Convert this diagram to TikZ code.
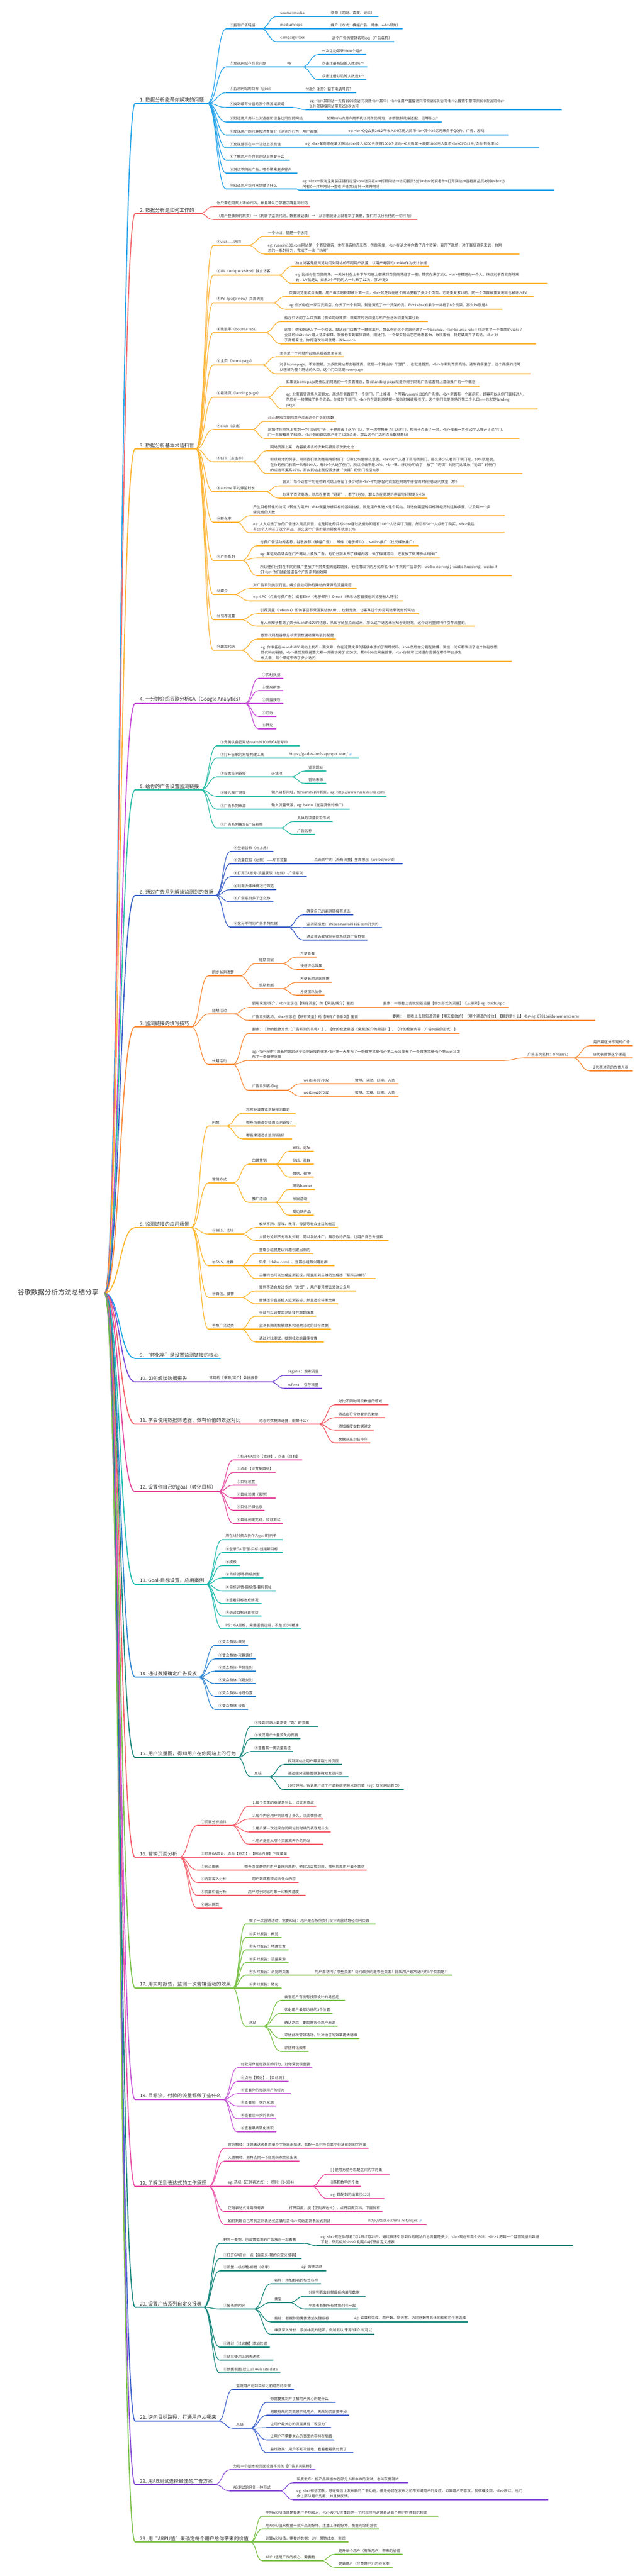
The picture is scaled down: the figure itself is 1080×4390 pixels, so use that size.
\documentclass[tikz,border=0pt]{standalone}
\usepackage{fontspec}
\setmainfont{Noto Sans CJK SC}
\newfontfamily\emojifont{Noto Emoji}
\usetikzlibrary{calc}
\definecolor{txtc}{HTML}{333333}
\definecolor{linkc}{HTML}{3A8EE6}
\definecolor{c1}{HTML}{27A4EA}
\definecolor{c2}{HTML}{F36B6E}
\definecolor{c3}{HTML}{FDB53A}
\definecolor{c4}{HTML}{C64AD8}
\definecolor{c5}{HTML}{2DBDA8}
\definecolor{c6}{HTML}{3A5FC8}
\definecolor{c7}{HTML}{FA8C3C}
\definecolor{c8}{HTML}{FDB72E}
\definecolor{c9}{HTML}{1FA8E8}
\definecolor{c10}{HTML}{7B4CD8}
\definecolor{c11}{HTML}{F4606B}
\definecolor{c12}{HTML}{E5489E}
\definecolor{c13}{HTML}{22BDB0}
\definecolor{c14}{HTML}{2F86D2}
\definecolor{c15}{HTML}{17877D}
\definecolor{c16}{HTML}{F4606B}
\definecolor{c17}{HTML}{7CC24A}
\definecolor{c18}{HTML}{C75AD8}
\definecolor{c19}{HTML}{E84FA6}
\definecolor{c20}{HTML}{17877D}
\definecolor{c21}{HTML}{3F64CC}
\definecolor{c22}{HTML}{8A4FD8}
\definecolor{c23}{HTML}{7CC24A}
\colorlet{cur}{c1}
\tikzset{
  leaf/.style={anchor=south west, inner sep=0pt, font=\fontsize{6.2}{8.8}\selectfont, text=txtc, align=left},
  brl/.style={anchor=south west, inner sep=0pt, font=\fontsize{8.3}{10}\selectfont, text=txtc},
  ul/.style={draw=cur, line width=1.2pt, line cap=round},
  cn/.style={draw=cur, line width=1.2pt},
  ulb/.style={draw=cur, line width=1.7pt, line cap=round},
  cnb/.style={draw=cur, line width=1.7pt},
}
\newcommand\mnd[5]{%
  \node[leaf] (#1) at (#2,#4-3) {#5};
  \draw[ul] let \p1=(#1.south east), \p2=(#2-6,#4), \n1={max(\x1+3pt,#3pt)} in (\p2) coordinate (#1-s) -- (\n1,\y2) coordinate (#1-e);}
\newcommand\mbr[5]{%
  \node[brl] (#1) at (#2,#4-2) {#5};
  \draw[ulb] let \p1=(#1.south east), \p2=(#2-8,#4), \n1={max(\x1+3pt,#3pt)} in (\p2) coordinate (#1-s) -- (\n1,\y2) coordinate (#1-e);}
\newcommand\mlk[2]{\draw[cn] let \p1=(#1-e),\p2=(#2-s),\n1={0.5*(\x2-\x1)} in (\p1) .. controls +(\n1,0pt) and +(-\n1,0pt) .. (\p2);}
\newcommand\mlks[2]{\foreach \kid in {#2}{\mlk{#1}{\kid}}}
\newcommand\mrl[1]{\draw[cnb] let \p1=(roote),\p2=(#1-s),\n1={0.5*(\x2-\x1)} in (\p1) .. controls +(\n1,0pt) and +(-\n1,0pt) .. (\p2);}
\newcommand\lnkicon{\hspace{2pt}{\emojifont\fontsize{4.5}{5}\selectfont\textcolor{linkc}{🔗}}}
\begin{document}
\begin{tikzpicture}[x=1pt,y=-1pt]
\fill[white] (0,0) rectangle (1080,4390);
\useasboundingbox (0,0) rectangle (1080,4390);
\node[font=\fontsize{11.5}{13}\selectfont, text=txtc, anchor=east, inner sep=0pt] (root) at (168,2202) {谷歌数据分析方法总结分享};
\coordinate (roote) at (178,2204);

% ---------- 1
\colorlet{cur}{c1}
\mbr{b1}{238}{353}{176}{1. 数据分析能帮你解决的问题}
\mnd{n1a}{391}{444}{49}{①监测广告链接}
\mnd{n1a1}{477}{553}{28}{source=media}
\mnd{n1a1a}{563}{644}{28}{来源（网站、百度、论坛）}
\mnd{n1a2}{477}{553}{49}{medium=cpc}
\mnd{n1a2a}{563}{685}{49}{媒介（方式：横幅广告、邮件、edm邮件）}
\mnd{n1a3}{477}{553}{71}{campaign=xxx}
\mnd{n1a3a}{565}{664}{71}{这个广告的营销名称xxx（广告名称）}
\mnd{n1b}{391}{480}{114}{②发现网站存在的问题}
\mnd{n1b1}{489}{514}{114}{eg}
\mnd{n1b1a}{548}{623}{93}{一次活动带来1000个用户}
\mnd{n1b1b}{548}{625}{114}{点击注册按钮的人数是6个}
\mnd{n1b1c}{548}{618}{136}{点击注册以后的人数是3个}
\mnd{n1c}{391}{505}{158}{③监测网站的目标（goal）}
\mnd{n1c1}{520}{606}{158}{付款？注册？留下电话号码？}
\mnd{n1d}{391}{498}{183}{④找到最有价值的那个来源或渠道}
\mnd{n1d1}{527}{956}{187}{eg: <br>某网站一天有1000次访问次数<br>其中：<br>1.用户直接访问带来150次访问<br>2.搜索引擎带来600次访问<br>\\3.外部链接网站带来250次访问}
\mnd{n1e}{391}{542}{208}{⑤知道用户用什么浏览器和设备访问你的网站}
\mnd{n1e1}{556}{740}{208}{如果80\%的用户用手机访问你的网站，你不做移动端适配，还等什么？}
\mnd{n1f}{391}{580}{230}{⑥发现用户的兴趣和消费偏好（浏览的行为，用户画像）}
\mnd{n1f1}{593}{865}{230}{eg: <br>QQ会员2012年收入54亿元人民币<br>其中26亿元来自于QQ秀、广告、游戏}
\mnd{n1g}{391}{510}{252}{⑦发现是否在一个活动上浪费钱}
\mnd{n1g1}{520}{917}{252}{eg: <br>某商家在某大网站<br>投入3000元获得1000个点击→0人购买→浪费3000元人民币<br>CPC=3元/点击 转化率=0}
\mnd{n1h}{391}{493}{273}{⑧了解用户在你的网站上需要什么}
\mnd{n1i}{391}{506}{295}{⑨测试不同的广告，哪个带来更多客户}
\mnd{n1j}{391}{505}{322}{⑩知道用户访问网站做了什么}
\mnd{n1j1}{515}{943}{324}{eg: <br>一家淘宝男装店铺的运营<br>访问者A→打开网站→访问首页5分钟<br>访问者B→打开网站→查看商品页4分钟<br>访\\问者C→打开网站→查看详情页3分钟→离开网站}
\mrl{b1}
\mlks{b1}{n1a,n1b,n1c,n1d,n1e,n1f,n1g,n1h,n1i,n1j}
\mlks{n1a}{n1a1,n1a2,n1a3}
\mlk{n1a1}{n1a1a}\mlk{n1a2}{n1a2a}\mlk{n1a3}{n1a3a}
\mlk{n1b}{n1b1}
\mlks{n1b1}{n1b1a,n1b1b,n1b1c}
\mlk{n1c}{n1c1}\mlk{n1d}{n1d1}\mlk{n1e}{n1e1}\mlk{n1f}{n1f1}\mlk{n1g}{n1g1}\mlk{n1j}{n1j1}

% ---------- 2
\colorlet{cur}{c2}
\mbr{b2}{238}{340}{364}{2. 数据分析是如何工作的}
\mnd{n2a}{369}{527}{352}{你只需在网页上添加代码，并且确认已部署正确监测代码}
\mnd{n2b}{369}{710}{374}{（用户登录你的网页）→（刷新了监测代码，数据被记录）→（从谷歌统计上就看到了数据，我们可以分析他的一切行为）}
\mrl{b2}
\mlks{b2}{n2a,n2b}

% ---------- 3
\colorlet{cur}{c3}
\mbr{b3}{238}{333}{765}{3. 数据分析基本术语扫盲}
\mnd{n3a}{369}{422}{418}{①visit——访问}
\mnd{n3a1}{456}{527}{403}{一个visit，就是一个访问}
\mnd{n3a2}{456}{884}{433}{eg: ruanshi100.com网站是一个百货商店，你在商店挑选东西，然后买单，<br>在这之中你看了几个货架，离开了商场，对于百货商店来说，你刚\\才的一系列行为，完成了一次“访问”}
\mnd{n3b}{369}{473}{469}{②UV（unique visitor）独立访客}
\mnd{n3b1}{503}{716}{454}{独立访客是指浏览访问你网站的不同用户数量，以用户电脑的cookie作为统计依据}
\mnd{n3b2}{503}{931}{483}{eg: 比如你在百货商场，一天分别在上午下午和晚上都来到百货商场逛了一圈，其实你来了3次，<br>但都是你一个人，所以对于百货商场来\\说，UV就是1，如果2个不同的人一共来了12次，那UV是2}
\mnd{n3c}{369}{463}{516}{③PV（page view）页面浏览}
\mnd{n3c1}{492}{908}{505}{页面浏览量或点击量，用户每次刷新即被计算一次，<br>就是你在这个网站里看了多少个页面，它是重复累计的，同一个页面被重复浏览也被计入PV}
\mnd{n3c2}{492}{855}{527}{eg: 假如你在一家百货商店，你去了一个货架，就是浏览了一个货架的货，PV+1<br>如果你一共看了8个货架，那么PV就是8}
\mnd{n3d}{369}{451}{567}{④跳出率（bounce rate）}
\mnd{n3d1}{484}{728}{548}{指在只访问了入口页面（例如网站首页）就离开的访问量与所产生总访问量的百分比}
\mnd{n3d2}{484}{912}{586}{比喻：假如你进入了一个网站，就站在门口看了一眼就离开，那么你在这个网站创造了一个bounce。<br>bounce rate = 只浏览了一个页面的visits /\\全部的visits<br>用人话来解释，就像你来到百货商场，刚进门，一个保安就凶巴巴地看着你，你很害怕，就赶紧离开了商场。<br>对\\于商场来说，你的这次访问就是一次bounce}
\mnd{n3e}{369}{445}{622}{⑤主页（home page）}
\mnd{n3e1}{476}{585}{608}{主页是一个网站的起始点或者是主目录}
\mnd{n3e2}{476}{903}{637}{对于homepage，不难理解，大多数网站都会有首页，就是一个网站的“门面”，也就是首页。<br>你来到百货商场，进到商店里了，这个商店的门可\\以理解为整个网站的入口，这个门口就是homepage}
\mnd{n3f}{369}{454}{677}{⑥着陆页（landing page）}
\mnd{n3f1}{487}{816}{658}{如果说homepage是你以前网站的一个页面概念，那么landing page就是你对于网站广告或者网上活动推广的一个概念}
\mnd{n3f2}{487}{915}{697}{eg: 北京百货商场人流很大，商场在侧面开了一个侧门，门上挂着一个写着ruanshi100的广告牌，<br>里面有一个展示区，顾客可以从侧门直接进入，\\然后在一楼摆放了各个货品，你找到了侧门，<br>你在逛到商场那一层的时候被吸引了，这个侧门就是商场的第二个入口——也就是landing\\page}
\mnd{n3g}{369}{429}{732}{⑦click（点击）}
\mnd{n3g1}{456}{571}{718}{click是指互联网用户点击这个广告的次数}
\mnd{n3g2}{456}{884}{747}{比如你在商场上看到一个门店的广告，于是就去了这个门店，第一次你推开了门店的门，相当于点击了一次，<br>接着一共有50个人推开了这个门，\\门一共被推开了50次，<br>你的商店就产生了50次点击，那么这个门店的点击数就是50}
\mnd{n3h}{369}{429}{787}{⑧CTR（点击率）}
\mnd{n3h1}{460}{612}{768}{网站页面上某一内容被点击的次数与被显示次数之比}
\mnd{n3h2}{460}{889}{807}{继续刚才的例子，刚刚我们说的是商场的侧门，CTR10\%是什么意思，<br>50个人进了商场的侧门，那么多少人看到了侧门呢，10\%就是说，\\在你的侧门前面一共有500人，有50个人进了侧门，所以点击率是10\%。<br>嗯，所以你明白了，放了“诱饵”的侧门比没放“诱饵”的侧门\\的点击率要高10\%，那么网站上就应该多放“诱饵”的侧门吸引大家}
\mnd{n3i}{369}{451}{838}{⑨avtime 平均停留时长}
\mnd{n3i1}{481}{790}{828}{含义：每个访客平均在你的网站上停留了多少时间<br>平均停留时间指在网站中停留的时间/总访问数量（秒）}
\mnd{n3i2}{481}{718}{849}{你来了百货商场，然后在里面“逛逛”，看了5分钟，那么你在商场的停留时长就是5分钟}
\mnd{n3j}{369}{403}{890}{⑩转化率}
\mnd{n3j1}{431}{859}{879}{产生目标转化的访问（转化为用户）<br>衡量分析目标的基础指标，就是用户从进入这个网站，到达你期望的目标所经历的这种步骤，以及每一个步\\骤完成的人数}
\mnd{n3j2}{431}{859}{908}{eg: 人人点击了你的广告进入商品页面，这是转化的目标<br>通过数据你知道有100个人访问了页面，然后有50个人点击了购买，<br>最后\\有10个人购买了这个产品，那么这个广告的最终转化率就是10\%}
\mnd{n3k}{369}{412}{955}{⑪广告系列}
\mnd{n3k1}{443}{704}{930}{付费广告活动的名称，谷歌推荐（横幅广告）、邮件（电子邮件）、weibo推广（社交媒体推广）}
\mnd{n3k2}{443}{748}{951}{eg: 某运动品牌会在门户网站上投放广告，他们分别发布了横幅内容，做了微博活动，还发放了微博粉丝的推广}
\mnd{n3k3}{443}{871}{981}{所以他们分别在不同的推广里放了不同类型的追踪链接，他们用以下的方式命名<br>不同的广告系列：weibo-neirong；weibo-huodong；weibo-F\\ST<br>他们就能知道各个广告系列的效果}
\mnd{n3l}{369}{397}{1013}{⑫媒介}
\mnd{n3l1}{431}{607}{1003}{对广告系列类别而言，媒介指访问你的网站的来源的流量渠道}
\mnd{n3l2}{431}{682}{1024}{eg: CPC（点击付费广告）或者EDM（电子邮件）Direct（表示访客直接在浏览器输入网址）}
\mnd{n3m}{369}{410}{1056}{⑬引荐流量}
\mnd{n3m1}{443}{713}{1046}{引荐流量（referrer）即访客引荐来源网站的URL，也就是说，访客从这个外部网站来访你的网站}
\mnd{n3m2}{443}{808}{1067}{有人从知乎看到了关于ruanshi100的信息，从知乎链接点击过来，那么这个访客来自知乎的网站，这个访问量就叫作引荐流量的。}
\mnd{n3n}{369}{410}{1108}{⑭跟踪代码}
\mnd{n3n1}{444}{552}{1089}{跟踪代码是谷歌分析实现数据收集功能的前提}
\mnd{n3n2}{444}{871}{1127}{eg: 你准备在ruanshi100网站上发布一篇文章，你在这篇文章的链接中添加了跟踪代码，<br>然后你分别在微博、微信、论坛都发出了这个你在加跟\\踪代码的链接，<br>最后发现这篇文章一共被访问了1000次，其中800次来自微博，<br>你就可以知道你应该在哪个平台多发\\布文章，每个渠道带来了多少访问}
\mrl{b3}
\mlks{b3}{n3a,n3b,n3c,n3d,n3e,n3f,n3g,n3h,n3i,n3j,n3k,n3l,n3m,n3n}
\mlks{n3a}{n3a1,n3a2}\mlks{n3b}{n3b1,n3b2}\mlks{n3c}{n3c1,n3c2}\mlks{n3d}{n3d1,n3d2}
\mlks{n3e}{n3e1,n3e2}\mlks{n3f}{n3f1,n3f2}\mlks{n3g}{n3g1,n3g2}\mlks{n3h}{n3h1,n3h2}
\mlks{n3i}{n3i1,n3i2}\mlks{n3j}{n3j1,n3j2}\mlks{n3k}{n3k1,n3k2,n3k3}\mlks{n3l}{n3l1,n3l2}
\mlks{n3m}{n3m1,n3m2}\mlks{n3n}{n3n1,n3n2}

% ---------- 4
\colorlet{cur}{c4}
\mbr{b4}{238}{410}{1199}{4. 一分钟介绍谷歌分析GA（Google Analytics）}
\mnd{n4a}{446}{482}{1156}{①实时数据}
\mnd{n4b}{446}{482}{1177}{②受众群体}
\mnd{n4c}{446}{482}{1199}{③流量获取}
\mnd{n4d}{446}{470}{1221}{④行为}
\mnd{n4e}{446}{470}{1242}{⑤转化}
\mrl{b4}
\mlks{b4}{n4a,n4b,n4c,n4d,n4e}

% ---------- 5
\colorlet{cur}{c5}
\mbr{b5}{238}{340}{1346}{5. 给你的广告设置监测链接}
\mnd{n5a}{375}{510}{1271}{①先确认自己网站ruanshi100的GA账号ID}
\mnd{n5b}{375}{475}{1292}{②打开谷歌的网址构建工具}
\mnd{n5b1}{492}{611}{1292}{https://ga-dev-tools.appspot.com/\lnkicon}
\mnd{n5c}{375}{454}{1324}{③设置监测链接}
\mnd{n5c1}{462}{495}{1324}{必填项}
\mnd{n5c1a}{525}{555}{1314}{监测网址}
\mnd{n5c1b}{525}{555}{1335}{营销来源}
\mnd{n5d}{375}{454}{1357}{④输入推广网址}
\mnd{n5d1}{462}{649}{1357}{输入目标网址，如ruanshi100首页，eg: http://www.ruanshi100.com}
\mnd{n5e}{375}{454}{1379}{⑤广告系列来源}
\mnd{n5e1}{462}{595}{1379}{输入流量来源，eg: baidu（在百度做的推广）}
\mnd{n5f}{375}{476}{1411}{⑥广告系列媒介\&广告名称}
\mnd{n5f1}{506}{566}{1400}{具体的流量获取形式}
\mnd{n5f2}{506}{536}{1422}{广告名称}
\mrl{b5}
\mlks{b5}{n5a,n5b,n5c,n5d,n5e,n5f}
\mlk{n5b}{n5b1}\mlk{n5c}{n5c1}\mlks{n5c1}{n5c1a,n5c1b}\mlk{n5d}{n5d1}\mlk{n5e}{n5e1}\mlks{n5f}{n5f1,n5f2}

% ---------- 6
\colorlet{cur}{c6}
\mbr{b6}{238}{362}{1526}{6. 通过广告系列解读监测到的数据}
\mnd{n6a}{398}{465}{1451}{①登录谷歌（右上角）}
\mnd{n6b}{398}{525}{1472}{②流量获取（左侧）——所有流量}
\mnd{n6b1}{535}{685}{1472}{点击其中的【所有流量】里面展示（weibo/word）}
\mnd{n6c}{398}{522}{1494}{③打开GA账号-流量获取（左侧）-广告系列}
\mnd{n6d}{398}{470}{1516}{④利用次级维度进行筛选}
\mnd{n6e}{398}{465}{1537}{⑤广告系列多了怎么办}
\mnd{n6f}{398}{489}{1580}{⑥区分不同的广告系列数据}
\mnd{n6f1}{522}{601}{1559}{确定自己的监测链接有点击}
\mnd{n6f2}{522}{650}{1581}{监测链接是：shicao.ruanshi100.com开头的}
\mnd{n6f3}{522}{625}{1602}{通过筛选被放在谷歌系统的广告数据}
\mrl{b6}
\mlks{b6}{n6a,n6b,n6c,n6d,n6e,n6f}
\mlk{n6b}{n6b1}\mlks{n6f}{n6f1,n6f2,n6f3}

% ---------- 7
\colorlet{cur}{c7}
\mbr{b7}{238}{324}{1750}{7. 监测链接的填写技巧}
\mnd{n7a}{361}{408}{1663}{同步监测清楚}
\mnd{n7a1}{441}{479}{1642}{短期测试}
\mnd{n7a1a}{511}{539}{1631}{方便查看}
\mnd{n7a1b}{511}{552}{1652}{快速评估效果}
\mnd{n7a2}{441}{479}{1685}{长期数据}
\mnd{n7a2a}{511}{565}{1674}{方便长期对比数据}
\mnd{n7a2b}{511}{552}{1696}{方便团队协作}
\mnd{n7b}{361}{397}{1728}{短期活动}
\mnd{n7b1}{429}{644}{1717}{使用来源/媒介，<br>显示在【所有流量】的【来源/媒介】里面}
\mnd{n7b1a}{652}{865}{1717}{要素：一眼看上去就知道流量【什么形式的流量】【从哪来】eg: baidu/cpc}
\mnd{n7b2}{429}{658}{1739}{广告系列名称，<br>显示在【所有流量】的【所有广告系列】里面}
\mnd{n7b2a}{668}{1013}{1739}{要素：一眼看上去就知道流量【哪天投放的】【哪个渠道的投放】【目的是什么】<br>eg: 0701baidu-wenancourse}
\mnd{n7c}{361}{396}{1814}{长期活动}
\mnd{n7c1}{429}{759}{1761}{要素：【你的投放方式（广告系列的名称）】、【你的投放渠道（来源/媒介的渠道）】、【你的投放内容（广告内容的形式）】}
\mnd{n7c2}{429}{859}{1807}{eg: <br>当你打算长期跟踪这个监测链接的效果<br>第一天发布了一条微博文章<br>第二天又发布了一条微博文章<br>第三天又发\\布了一条微博文章}
\mnd{n7c2a}{898}{975}{1803}{广告系列名称：0703WZJ}
\mnd{n7c2a1}{1010}{1077}{1782}{用日期区分不同的广告}
\mnd{n7c2a2}{1010}{1077}{1803}{W代表微博这个渠道}
\mnd{n7c2a3}{1010}{1077}{1825}{Z代表对应的负责人员}
\mnd{n7c3}{429}{486}{1858}{广告系列名称eg}
\mnd{n7c3a}{517}{593}{1847}{weibohd0703Z}
\mnd{n7c3a1}{604}{678}{1847}{微博、活动、日期、人员}
\mnd{n7c3b}{517}{593}{1868}{weibowz0703Z}
\mnd{n7c3b1}{604}{678}{1868}{微博、文章、日期、人员}
\mrl{b7}
\mlks{b7}{n7a,n7b,n7c}
\mlks{n7a}{n7a1,n7a2}\mlks{n7a1}{n7a1a,n7a1b}\mlks{n7a2}{n7a2a,n7a2b}
\mlks{n7b}{n7b1,n7b2}\mlk{n7b1}{n7b1a}\mlk{n7b2}{n7b2a}
\mlks{n7c}{n7c1,n7c2,n7c3}\mlk{n7c2}{n7c2a}\mlks{n7c2a}{n7c2a1,n7c2a2,n7c2a3}
\mlks{n7c3}{n7c3a,n7c3b}\mlk{n7c3a}{n7c3a1}\mlk{n7c3b}{n7c3b1}

% ---------- 8
\colorlet{cur}{c8}
\mbr{b8}{238}{324}{2092}{8. 监测链接的应用场景}
\mnd{n8a}{361}{384}{1919}{问题}
\mnd{n8a1}{419}{503}{1897}{您可能设置监测链接的目的}
\mnd{n8a2}{419}{503}{1919}{哪些场景适合使用监测链接？}
\mnd{n8a3}{419}{497}{1941}{哪些渠道适合监测链接？}
\mnd{n8b}{361}{397}{2016}{营销方式}
\mnd{n8b1}{429}{467}{1984}{口碑营销}
\mnd{n8b1a}{498}{534}{1962}{BBS、论坛}
\mnd{n8b1b}{498}{534}{1984}{SNS、社群}
\mnd{n8b1c}{498}{534}{2006}{微信、微博}
\mnd{n8b2}{429}{467}{2049}{推广活动}
\mnd{n8b2a}{498}{536}{2027}{网站banner}
\mnd{n8b2b}{498}{527}{2049}{节日活动}
\mnd{n8b2c}{498}{534}{2071}{周边新产品}
\mnd{n8c}{361}{410}{2103}{①BBS、论坛}
\mnd{n8c1}{441}{575}{2092}{板块不同：游戏、教育、母婴等社会生活的社区}
\mnd{n8c2}{441}{661}{2114}{大部分论坛不允许发外链，可以发帖推广，展示你的产品，让用户自己去搜索}
\mnd{n8d}{361}{410}{2157}{②SNS、社群}
\mnd{n8d1}{441}{533}{2136}{豆瓣小组就是以兴趣创建出来的}
\mnd{n8d2}{441}{569}{2157}{知乎（zhihu.com）、豆瓣小组等兴趣社群}
\mnd{n8d3}{441}{639}{2179}{二维码也可以生成监测链接，需要用到二维码生成器“草料二维码”}
\mnd{n8e}{361}{410}{2211}{③微信、微博}
\mnd{n8e1}{441}{606}{2200}{微信不适合发过多的“诱饵”，用户要习惯去关注公众号}
\mnd{n8e2}{441}{575}{2222}{微博适合直接植入监测链接，并且适合转发文章}
\mnd{n8f}{361}{410}{2265}{④推广活动类}
\mnd{n8f1}{441}{538}{2243}{全部可以设置监测链接并跟踪效果}
\mnd{n8f2}{441}{563}{2265}{监测长期的投放效果和短期活动的目标数据}
\mnd{n8f3}{441}{551}{2287}{通过对比测试，找到投放的最佳位置}
\mrl{b8}
\mlks{b8}{n8a,n8b,n8c,n8d,n8e,n8f}
\mlks{n8a}{n8a1,n8a2,n8a3}\mlks{n8b}{n8b1,n8b2}\mlks{n8b1}{n8b1a,n8b1b,n8b1c}\mlks{n8b2}{n8b2a,n8b2b,n8b2c}
\mlks{n8c}{n8c1,n8c2}\mlks{n8d}{n8d1,n8d2,n8d3}\mlks{n8e}{n8e1,n8e2}\mlks{n8f}{n8f1,n8f2,n8f3}

% ---------- 9
\colorlet{cur}{c9}
\mbr{b9}{238}{367}{2315}{9. “转化率”是设置监测链接的核心}
\mrl{b9}

% ---------- 10
\colorlet{cur}{c10}
\mbr{b10}{238}{347}{2355}{10. 如何解读数据报告}
\mnd{n10a}{356}{460}{2355}{常用的【来源/媒介】数据报告}
\mnd{n10a1}{490}{548}{2344}{organic：搜索流量}
\mnd{n10a2}{490}{548}{2366}{referral：引荐流量}
\mrl{b10}
\mlk{b10}{n10a}\mlks{n10a}{n10a1,n10a2}

% ---------- 11
\colorlet{cur}{c11}
\mbr{b11}{238}{420}{2427}{11. 学会使用数据筛选器，做有价值的数据对比}
\mnd{n11a}{441}{542}{2427}{动态的数据筛选器，能做什么？}
\mnd{n11a1}{576}{661}{2394}{对比不同时间段数据的增减}
\mnd{n11a2}{576}{655}{2416}{筛选出符合你要求的数据}
\mnd{n11a3}{576}{636}{2437}{添加维度做数据对比}
\mnd{n11a4}{576}{630}{2459}{数据从高到低排序}
\mrl{b11}
\mlk{b11}{n11a}\mlks{n11a}{n11a1,n11a2,n11a3,n11a4}

% ---------- 12
\colorlet{cur}{c12}
\mbr{b12}{238}{369}{2542}{12. 设置你自己的goal（转化目标）}
\mnd{n12a}{403}{514}{2488}{①打开GA后台【管理】，点击【目标】}
\mnd{n12b}{403}{469}{2509}{②点击【设置新目标】}
\mnd{n12c}{403}{438}{2531}{③目标设置}
\mnd{n12d}{403}{469}{2553}{④目标说明（名字）}
\mnd{n12e}{403}{450}{2574}{⑤目标详细信息}
\mnd{n12f}{403}{481}{2596}{⑥目标创建完成，验证测试}
\mrl{b12}
\mlks{b12}{n12a,n12b,n12c,n12d,n12e,n12f}

% ---------- 13
\colorlet{cur}{c13}
\mbr{b13}{238}{350}{2700}{13. Goal-目标设置，应用案例}
\mnd{n13a}{384}{481}{2624}{用在线付费会员作为goal的例子}
\mnd{n13b}{384}{481}{2646}{①登录GA-管理-目标-创建新目标}
\mnd{n13c}{384}{408}{2668}{②模板}
\mnd{n13d}{384}{448}{2689}{③目标说明-目标类型}
\mnd{n13e}{384}{469}{2711}{④目标详情-目标值-目标网址}
\mnd{n13f}{384}{445}{2733}{⑤查看目标达成情况}
\mnd{n13g}{384}{445}{2754}{⑥通过目标计算收益}
\mnd{n13h}{384}{509}{2776}{PS：GA目标，需要谨慎运用，不是100\%精准}
\mrl{b13}
\mlks{b13}{n13a,n13b,n13c,n13d,n13e,n13f,n13g,n13h}

% ---------- 14
\colorlet{cur}{c14}
\mbr{b14}{238}{336}{2858}{14. 通过数据确定广告投放}
\mnd{n14a}{372}{422}{2804}{①受众群体-概览}
\mnd{n14b}{372}{435}{2827}{②受众群体-兴趣偏好}
\mnd{n14c}{372}{435}{2848}{③受众群体-年龄性别}
\mnd{n14d}{372}{435}{2869}{④受众群体-兴趣类别}
\mnd{n14e}{372}{435}{2891}{⑤受众群体-地理位置}
\mnd{n14f}{372}{422}{2913}{⑥受众群体-设备}
\mrl{b14}
\mlks{b14}{n14a,n14b,n14c,n14d,n14e,n14f}

% ---------- 15
\colorlet{cur}{c15}
\mbr{b15}{238}{397}{2995}{15. 用户流量图，得知用户在你网站上的行为}
\mnd{n15a}{433}{541}{2942}{①找到网站上最常走“路”的页面}
\mnd{n15b}{433}{511}{2963}{②发现用户大量流失的页面}
\mnd{n15c}{433}{498}{2985}{③查看某一类流量路径}
\mnd{n15d}{433}{457}{3028}{总结}
\mnd{n15d1}{490}{582}{3007}{找到网站上用户最常路过的页面}
\mnd{n15d2}{490}{593}{3028}{通过细分流量图更准确地发现问题}
\mnd{n15d3}{490}{682}{3050}{10秒钟内，告诉用户这个产品能给他带来的价值（eg：优化网站首页）}
\mrl{b15}
\mlks{b15}{n15a,n15b,n15c,n15d}\mlks{n15d}{n15d1,n15d2,n15d3}

% ---------- 16
\colorlet{cur}{c16}
\mbr{b16}{238}{305}{3165}{16. 营销页面分析}
\mnd{n16a}{342}{394}{3111}{①页面分析插件}
\mnd{n16a1}{430}{537}{3078}{1.每个页面的表现是什么，以此来修改}
\mnd{n16a2}{430}{550}{3100}{2.每个内容用户到底看了多久，以此做修改}
\mnd{n16a3}{430}{561}{3122}{3.用户第一次进来你的网站的时候的表现是什么}
\mnd{n16a4}{430}{550}{3143}{4.用户是在从哪个页面离开你的网站}
\mnd{n16b}{342}{493}{3165}{②打开GA后台，点击【行为】-【网站内容】下拉菜单}
\mnd{n16c}{342}{408}{3187}{③热点图表}
\mnd{n16c1}{416}{623}{3187}{哪些页面是你的用户最感兴趣的，他们怎么找到的，哪些页面用户最不喜欢}
\mnd{n16d}{342}{422}{3208}{④内容深入分析}
\mnd{n16d1}{429}{508}{3208}{用户到底喜欢点击什么内容}
\mnd{n16e}{342}{414}{3230}{⑤页面价值分析}
\mnd{n16e1}{422}{520}{3230}{用户对于网站的第一印象关注度}
\mnd{n16f}{342}{378}{3252}{⑥退出网页}
\mrl{b16}
\mlks{b16}{n16a,n16b,n16c,n16d,n16e,n16f}
\mlks{n16a}{n16a1,n16a2,n16a3,n16a4}\mlk{n16c}{n16c1}\mlk{n16d}{n16d1}\mlk{n16e}{n16e1}

% ---------- 17
\colorlet{cur}{c17}
\mbr{b17}{238}{390}{3388}{17. 用实时报告，监测一次营销活动的效果}
\mnd{n17a}{424}{639}{3279}{做了一次营销活动，需要知道：用户是否按照我们设计的营销路径访问页面}
\mnd{n17b}{424}{479}{3302}{①实时报告：概览}
\mnd{n17c}{424}{491}{3323}{②实时报告：地理位置}
\mnd{n17d}{424}{491}{3345}{③实时报告：流量来源}
\mnd{n17e}{424}{505}{3366}{④实时报告：浏览的页面}
\mnd{n17e1}{536}{770}{3366}{用户都访问了哪些页面？访问最多的是哪些页面？比如用户最常访问的5个页面是？}
\mnd{n17f}{424}{479}{3388}{⑤实时报告：转化}
\mnd{n17g}{424}{448}{3453}{总结}
\mnd{n17g1}{484}{587}{3409}{去看用户有没有按照设计的路径走}
\mnd{n17g2}{484}{566}{3431}{优化用户最常访问的3个位置}
\mnd{n17g3}{484}{574}{3453}{确认之后，要留意各个用户来源}
\mnd{n17g4}{484}{611}{3474}{评估此次营销活动，针对地区的效果再做精准}
\mnd{n17g5}{484}{525}{3496}{评估转化效率}
\mrl{b17}
\mlks{b17}{n17a,n17b,n17c,n17d,n17e,n17f,n17g}
\mlk{n17e}{n17e1}\mlks{n17g}{n17g1,n17g2,n17g3,n17g4,n17g5}

% ---------- 18
\colorlet{cur}{c18}
\mbr{b18}{238}{375}{3578}{18. 目标流，付款的流量都做了些什么}
\mnd{n18a}{410}{531}{3524}{付款用户在付款前的行为，对你来说很重要}
\mnd{n18b}{410}{491}{3547}{①点击【转化】-【目标流】}
\mnd{n18c}{410}{495}{3568}{②查看你的付款用户的行为}
\mnd{n18d}{410}{470}{3589}{③查看前一步的来源}
\mnd{n18e}{410}{470}{3611}{④查看后一步的去向}
\mnd{n18f}{410}{470}{3633}{⑤查看最终转化情况}
\mrl{b18}
\mlks{b18}{n18a,n18b,n18c,n18d,n18e,n18f}

% ---------- 19
\colorlet{cur}{c19}
\mbr{b19}{238}{352}{3726}{19. 了解正则表达式的工作原理}
\mnd{n19a}{388}{625}{3661}{官方解释：正则表达式是用单个字符串来描述、匹配一系列符合某个句法规则的字符串}
\mnd{n19b}{388}{509}{3683}{人话解释：把符合同一个规则的东西找出来}
\mnd{n19c}{388}{530}{3726}{eg: 选择【正则表达式】：规则：[0-9]\{4\}}
\mnd{n19c1}{563}{663}{3705}{[ ] 使用方括号匹配区间的字符集}
\mnd{n19c2}{563}{611}{3726}{\{\}匹配数字的个数}
\mnd{n19c3}{563}{654}{3747}{eg: 匹配到的结果 [0122]}
\mnd{n19d}{388}{484}{3769}{正则表达式常用符号表}
\mnd{n19d1}{492}{649}{3769}{打开百度，搜【正则表达式】，点开百度百科，下面就有}
\mnd{n19e}{388}{618}{3791}{如何判断自己写的正则表达式正确与否<br>网站正则表达式测试}
\mnd{n19e1}{627}{726}{3791}{http://tool.oschina.net/regex\lnkicon}
\mrl{b19}
\mlks{b19}{n19a,n19b,n19c,n19d,n19e}
\mlks{n19c}{n19c1,n19c2,n19c3}\mlk{n19d}{n19d1}\mlk{n19e}{n19e1}

% ---------- 20
\colorlet{cur}{c20}
\mbr{b20}{238}{343}{3932}{20. 设置广告系列自定义报表}
\mnd{n20a}{380}{517}{3823}{把同一类别，已设置监测的广告放在一起看看}
\mnd{n20a1}{546}{975}{3827}{eg: <br>现在你想看7月1日-7月25日，通过微博引导到你的网站的总流量是多少，<br>现在有两个方法：<br>1.把每一个监测链接的数据\\下载，然后相加<br>2.利用GA打开自定义报表}
\mnd{n20b}{380}{513}{3849}{①打开GA后台，点【自定义-我的自定义报表】}
\mnd{n20c}{380}{505}{3870}{②设置一级标题-标题（名字）}
\mnd{n20c1}{513}{555}{3870}{eg: 微博活动}
\mnd{n20d}{380}{432}{3935}{③报表的内容}
\mnd{n20d1}{467}{546}{3892}{名称：添加报表的标签名称}
\mnd{n20d2}{467}{492}{3924}{类型}
\mnd{n20d2a}{525}{622}{3913}{分层列表会以层级结构展示数据}
\mnd{n20d2b}{525}{609}{3935}{平面表格把所有数据列在一起}
\mnd{n20d3}{467}{593}{3957}{指标：根据你的需要添加关键指标}
\mnd{n20d3a}{603}{795}{3957}{eg: 如目标完成、用户数、新访客、访问总数等具体的指标可任意选择}
\mnd{n20d4}{467}{637}{3978}{维度深入分析：添加维度的选项，例如默认 来源/媒介 就可以}
\mnd{n20e}{380}{459}{4000}{④通过【过滤器】添加数据}
\mnd{n20f}{380}{465}{4022}{⑤结合使用正则表达式}
\mnd{n20g}{380}{477}{4044}{⑥数据视图-默认all web site data}
\mrl{b20}
\mlks{b20}{n20a,n20b,n20c,n20d,n20e,n20f,n20g}
\mlk{n20a}{n20a1}\mlk{n20c}{n20c1}
\mlks{n20d}{n20d1,n20d2,n20d3,n20d4}\mlks{n20d2}{n20d2a,n20d2b}\mlk{n20d3}{n20d3a}

% ---------- 21
\colorlet{cur}{c21}
\mbr{b21}{238}{369}{4126}{21. 逆向目标路径，打通用户从哪来}
\mnd{n21a}{402}{500}{4072}{监测用户达到目标之前经历的步骤}
\mnd{n21b}{402}{426}{4138}{总结}
\mnd{n21b1}{460}{571}{4094}{你需要找到并了解用户关心的是什么}
\mnd{n21b2}{460}{594}{4116}{把最有效的页面展示给用户，无效的页面要干掉}
\mnd{n21b3}{460}{563}{4137}{让用户最关心的页面具有“吸引力”}
\mnd{n21b4}{460}{557}{4158}{让用户不需要关心的页面内容排在后面}
\mnd{n21b5}{460}{601}{4180}{最终效果：用户不知不觉地，看着看着就付费了}
\mrl{b21}
\mlks{b21}{n21a,n21b}\mlks{n21b}{n21b1,n21b2,n21b3,n21b4,n21b5}

% ---------- 22
\colorlet{cur}{c22}
\mbr{b22}{238}{365}{4234}{22. 用AB测试选择最佳的广告方案}
\mnd{n22a}{397}{536}{4209}{为每一个版本的页面设置不同的【广告系列名称】}
\mnd{n22b}{397}{476}{4245}{AB测试的另外一种形式}
\mnd{n22b1}{505}{694}{4231}{灰度发布：指产品新版本在部分人群中做的测试，也叫灰度测试}
\mnd{n22b2}{505}{933}{4260}{eg: <br>微信团队，想在微信上发布新的广告功能，但是他们在发布之前不知道用户的反应，如果用户不喜欢，就很难挽回，<br>所以，他们\\会让部分用户先用，并且做反馈。}
\mrl{b22}
\mlks{b22}{n22a,n22b}\mlks{n22b}{n22b1,n22b2}

% ---------- 23
\colorlet{cur}{c23}
\mbr{b23}{238}{416}{4332}{23. 用“ARPU值”来确定每个用户给你带来的价值}
\mnd{n23a}{452}{746}{4288}{平均ARPU值就是每用户平均收入，<br>ARPU注重的是一个时间段内运营商从每个用户所得到的利润}
\mnd{n23b}{452}{639}{4310}{用ARPU值来衡量一款产品的好坏，注重工作的好坏，衡量网站的营收}
\mnd{n23c}{452}{593}{4332}{计算ARPU值，需要的数据：UV、营销成本、利润}
\mnd{n23d}{452}{546}{4364}{ARPU值是工作的核心，需要看}
\mnd{n23d1}{576}{685}{4353}{提升单个用户（有效用户）带来的价值}
\mnd{n23d2}{576}{668}{4375}{提高用户（付费用户）的转化率}
\mrl{b23}
\mlks{b23}{n23a,n23b,n23c,n23d}\mlks{n23d}{n23d1,n23d2}
\end{tikzpicture}
\end{document}
